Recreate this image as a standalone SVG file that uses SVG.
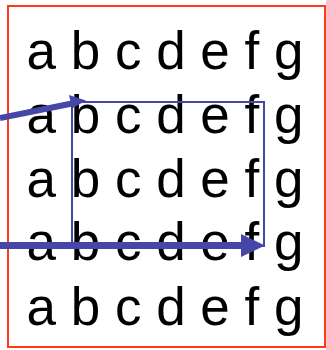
<svg xmlns="http://www.w3.org/2000/svg" width="326" height="350" viewBox="0 0 326 350">
<style>
.t{font-family:"Liberation Sans",Arial,sans-serif;font-size:53px;fill:#000}
.b{stroke:#4646a8;fill:none}
</style>
<rect width="326" height="350" fill="#fff"/>
<g id="frame"><rect x="8" y="6" width="317" height="341" fill="none" stroke="#ff3a1a" stroke-width="2"/></g>
<g id="letters">
<text class="t" x="26.5" y="69" xml:space="preserve">a b c d e f g</text>
<text class="t" x="26.5" y="133" xml:space="preserve">a b c d e f g</text>
<text class="t" x="26.5" y="197" xml:space="preserve">a b c d e f g</text>
<text class="t" x="26.5" y="260" xml:space="preserve">a b c d e f g</text>
<text class="t" x="26.5" y="325" xml:space="preserve">a b c d e f g</text>
</g>
<g id="window"><rect class="b" x="72" y="102" width="192" height="144" stroke-width="2"/></g>
<g id="connectors">
<line class="b" x1="0" y1="118" x2="72" y2="103.5" stroke-width="6"/>
<polygon points="86,100.5 69,95 72,108.5" fill="#4646a8"/>
<line class="b" x1="0" y1="245.5" x2="242" y2="245.5" stroke-width="7"/>
<polygon points="265,245.5 241,234 241,257" fill="#4646a8"/>
</g>
</svg>
